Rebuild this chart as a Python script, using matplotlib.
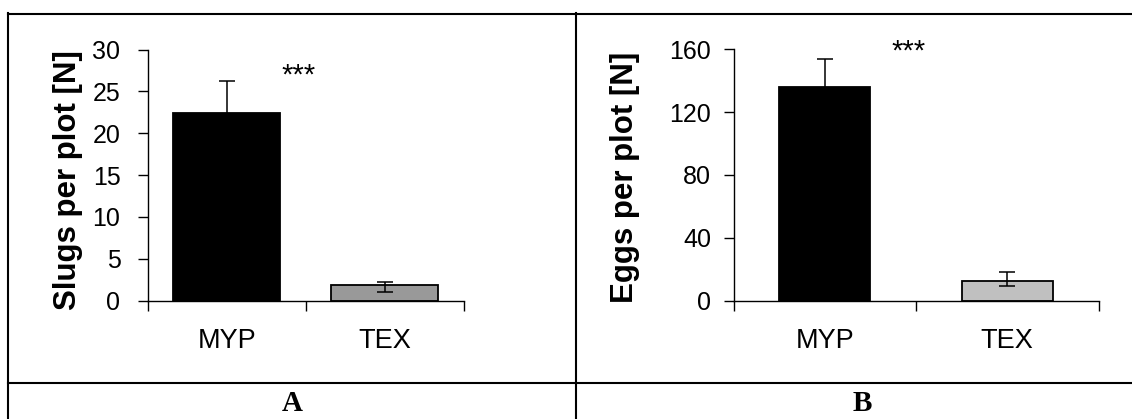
import matplotlib.pyplot as plt
from matplotlib.lines import Line2D

# data
sites = ['MYP', 'TEX']
slugs = [22.4, 1.8]
slugs_err_low = [3.8, 0.8]
slugs_err_high = [3.8, 0.4]
eggs = [135.8, 12.7]
eggs_err_low = [18.0, 3.2]
eggs_err_high = [18.0, 5.3]
slug_ticks = [0, 5, 10, 15, 20, 25, 30]
egg_ticks = [0, 40, 80, 120, 160]
signif = '***'
panel_names = ['A', 'B']

W, H = 1132, 419
plt.rcParams['font.family'] = ['Liberation Sans', 'DejaVu Sans']

fig = plt.figure(figsize=(W / 100, H / 100), dpi=100)


def px_axes(left, top, right, bottom):
    # axes placed in pixel coords (origin top-left)
    return fig.add_axes([left / W, 1 - bottom / H, (right - left) / W, (bottom - top) / H])


def bar_panel(ax, values, err_low, err_high, colors, width, ylim, yticks, ylabel, ypad, star_x, star_y):
    x = range(len(sites))
    ax.bar(x, values, width=width, color=colors, edgecolor='black', linewidth=1.3, zorder=2)
    ax.errorbar(x, values, yerr=[err_low, err_high], fmt='none', ecolor='black',
                elinewidth=1.1, capsize=5.5, capthick=1.1, zorder=3)
    ax.set_xlim(-0.5, len(sites) - 0.5)
    ax.set_ylim(*ylim)
    ax.set_yticks(yticks)
    ax.set_xticks(list(x))
    ax.set_xticklabels(sites)
    # ticks on the x axis sit between the categories
    ax.set_xticks([-0.5, 0.5, 1.5], minor=True)
    ax.tick_params(axis='x', which='major', length=0, pad=20, labelsize=19.5)
    ax.tick_params(axis='x', which='minor', length=7, width=1, direction='out')
    ax.tick_params(axis='y', length=7, width=1, direction='out', pad=ypad, labelsize=18)
    for side in ['top', 'right']:
        ax.spines[side].set_visible(False)
    for side in ['left', 'bottom']:
        ax.spines[side].set_linewidth(1)
    ax.set_ylabel(ylabel, fontsize=22.5, fontweight='bold')
    ax.text(star_x, star_y, signif, ha='center', va='center', fontsize=21)


axA = px_axes(147.5, 49.5, 463.8, 300.5)
bar_panel(axA, slugs, slugs_err_low, slugs_err_high, ['black', '#999999'], 0.676,
          (0, 30), slug_ticks, 'Slugs per plot [N]', 12.5, 0.455, 26.9)
axA.yaxis.set_label_coords(-0.205, 0.48)

axB = px_axes(733.5, 49.5, 1098.5, 300.5)
bar_panel(axB, eggs, eggs_err_low, eggs_err_high, ['black', '#c0c0c0'], 0.5,
          (0, 160), egg_ticks, 'Eggs per plot [N]', 9, 0.46, 158.5)
axB.yaxis.set_label_coords(-0.256, 0.49)

# table rules around the two panels
def rule(x0, y0, x1, y1):
    fig.add_artist(Line2D([x0 / W, x1 / W], [1 - y0 / H, 1 - y1 / H],
                          transform=fig.transFigure, color='black', linewidth=1.5))

rule(7.7, 14, W, 14)
rule(7.7, 13.3, 7.7, H)
rule(576, 13.3, 576, H)
rule(7.7, 382.7, W, 382.7)

fig.text(292 / W, 1 - 403 / H, panel_names[0], ha='center', va='center',
         family='Liberation Serif', fontweight='bold', fontsize=21)
fig.text(862 / W, 1 - 403 / H, panel_names[1], ha='center', va='center',
         family='Liberation Serif', fontweight='bold', fontsize=21)

fig.savefig('out.png', dpi=100)
